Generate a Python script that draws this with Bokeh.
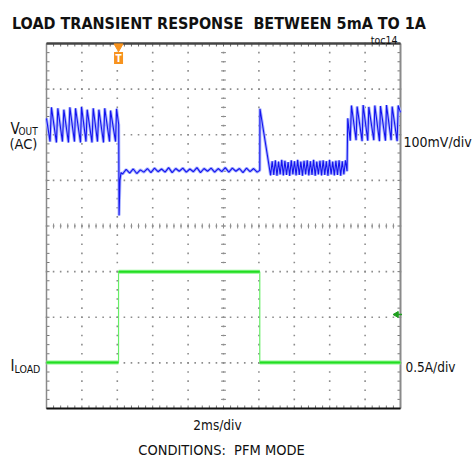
import numpy as np
from bokeh.plotting import figure
from bokeh.models import Range1d, Label
from bokeh.embed import file_html
from bokeh.resources import INLINE

# ---------------- data ----------------
TITLE = "LOAD TRANSIENT RESPONSE\u00a0 BETWEEN 5mA TO 1A"
TOC = "toc14"
CONDITIONS = "CONDITIONS:\u00a0 PFM MODE"
TIME_DIV = "2ms/div"
VOUT_SCALE = "100mV/div"
ILOAD_SCALE = "0.5A/div"

MS_PER_DIV = 2.0
N_XDIV = 10
N_YDIV = 8

# Vout (AC coupled), time in ms, value in mV
vout_t = [0.00, 0.20, 0.28, 0.56, 0.64, 0.90, 0.98, 1.24, 1.32, 1.58, 1.64, 1.92, 1.98,
          2.23, 2.30, 2.57, 2.64, 2.88, 2.96, 3.22, 3.29, 3.56, 3.62, 3.90, 3.96, 4.08,
          4.10, 4.15, 4.21,
          4.30, 4.50, 4.70, 4.90, 5.10, 5.30, 5.50, 5.70, 5.90, 6.10, 6.30, 6.50, 6.70,
          6.90, 7.10, 7.30, 7.50, 7.70, 7.90, 8.10, 8.30, 8.50, 8.70, 8.90, 9.10, 9.30,
          9.50, 9.70, 9.90, 10.10, 10.30, 10.50, 10.70, 10.90, 11.10, 11.30, 11.50, 11.70,
          11.90, 12.05, 12.06, 12.66,
          12.75, 12.84, 12.93, 13.02, 13.11, 13.20, 13.29, 13.38, 13.47, 13.56, 13.65, 13.74,
          13.83, 13.92, 14.01, 14.10, 14.19, 14.28, 14.37, 14.46, 14.55, 14.64, 14.73, 14.82,
          14.91, 15.00, 15.09, 15.18, 15.27, 15.36, 15.45, 15.54, 15.63, 15.72, 15.81, 15.90,
          15.99, 16.08, 16.17, 16.26, 16.35, 16.44, 16.53, 16.62, 16.71, 16.80, 16.89, 16.98,
          17.02, 17.16, 17.23, 17.49, 17.55, 17.83, 17.89, 18.15, 18.21, 18.49, 18.55, 18.81,
          18.87, 19.15, 19.21, 19.47, 19.53, 19.81, 19.87, 20.00]
vout_mv = [136, 85, 160, 83, 158, 85, 155, 83, 160, 85, 158, 83, 161,
           85, 155, 83, 158, 85, 155, 83, 158, 85, 153, 85, 157, 122,
           -77, 0, 17,
           14, 24, 16, 25, 15, 23, 18, 26, 17, 27, 19, 25, 18,
           28, 17, 26, 20, 27, 18, 25, 19, 28, 17, 26, 20, 27,
           18, 26, 19, 28, 18, 27, 20, 26, 17, 27, 19, 26,
           18, 22, 157, 11,
           42, 12, 44, 10, 41, 13, 45, 11, 43, 12, 40, 10,
           44, 13, 42, 11, 45, 12, 41, 10, 43, 13, 44, 11,
           42, 12, 45, 10, 41, 13, 43, 11, 44, 12, 42, 10,
           45, 13, 41, 11, 43, 12, 44, 10, 42, 13, 44, 20,
           136, 87, 164, 88, 162, 86, 165, 87, 161, 88, 164, 86,
           163, 87, 165, 88, 162, 86, 164, 149]

# Load current, time in ms, value in A
iload_t = [0.0, 4.07, 4.07, 12.05, 12.05, 20.0]
iload_a = [0.005, 0.005, 1.0, 1.0, 0.005, 0.005]

TRIG_T = 4.07      # ms
TRIG_LEVEL = 0.53  # A

# channel scales: value at the bottom graticule line and volts/amps per division
VOUT_BOTTOM, VOUT_PER_DIV = -500.0, 100.0   # mV
ILOAD_BOTTOM, ILOAD_PER_DIV = -0.5, 0.5     # A

# ---------------- layout ----------------
FONT = "DejaVu Sans Condensed"
W, H = 473, 457
FL, FT, FW, FH = 46, 43, 354, 365  # graticule box in canvas pixels
X_END = MS_PER_DIV * N_XDIV
PX_X = FW / X_END        # px per ms
PX_Y = FH / N_YDIV       # px per div


def tx(px):
    return (px - FL) / PX_X


def dy(py):
    return (FT + FH - py) / PX_Y


y0, y1 = dy(H), dy(0)
p = figure(width=W, height=H, output_backend="svg", toolbar_location=None,
           x_range=Range1d(tx(0), tx(W)), y_range=Range1d(y0, y1),
           min_border=0, background_fill_color="white", border_fill_color="white")
p.outline_line_color = None
p.axis.visible = False
p.grid.visible = False
p.extra_y_ranges = {
    "vout": Range1d(VOUT_BOTTOM + y0 * VOUT_PER_DIV, VOUT_BOTTOM + y1 * VOUT_PER_DIV),
    "iload": Range1d(ILOAD_BOTTOM + y0 * ILOAD_PER_DIV, ILOAD_BOTTOM + y1 * ILOAD_PER_DIV),
}

x_minor = list(np.round(np.arange(0, X_END + 1e-9, MS_PER_DIV / 5), 4))
y_minor = list(np.round(np.arange(0, N_YDIV + 1e-9, 0.2), 4))

# graticule dots
gx, gy = [], []
for k in range(1, N_XDIV):
    for yy in y_minor:
        gx.append(k * MS_PER_DIV)
        gy.append(yy)
for k in range(1, N_YDIV):
    for xx in x_minor:
        gx.append(xx)
        gy.append(k)
p.scatter(gx, gy, marker="square", size=1.6, fill_color="#8c8c8c", line_color=None)

# center cross tick marks
cx = X_END / 2
cy = N_YDIV / 2
p.scatter([cx] * len(y_minor), y_minor, marker="dash", size=5, line_color="#8c8c8c", line_width=1)
p.scatter(x_minor, [cy] * len(x_minor), marker="dash", angle=np.pi / 2, size=5,
          line_color="#8c8c8c", line_width=1)

# border ticks (pointing inward, 3px)
TK = 3.0
p.scatter(x_minor, [N_YDIV - TK / 2 / PX_Y] * len(x_minor), marker="dash", angle=np.pi / 2,
          size=TK, line_color="#666666", line_width=1)
p.scatter(x_minor, [TK / 2 / PX_Y] * len(x_minor), marker="dash", angle=np.pi / 2,
          size=TK, line_color="#777777", line_width=1)
p.scatter([TK / 2 / PX_X] * len(y_minor), y_minor, marker="dash", size=TK,
          line_color="#777777", line_width=1)
p.scatter([X_END - TK / 2 / PX_X] * len(y_minor), y_minor, marker="dash", size=TK,
          line_color="#777777", line_width=1)

# border
p.segment(x0=[0], y0=[0], x1=[0], y1=[N_YDIV], line_color="#8a8a8a", line_width=1.5)
p.segment(x0=[X_END], y0=[0], x1=[X_END], y1=[N_YDIV], line_color="#8a8a8a", line_width=2)
p.segment(x0=[0], y0=[N_YDIV], x1=[X_END], y1=[N_YDIV], line_color="#444444", line_width=2.5)
p.segment(x0=[0], y0=[0], x1=[X_END], y1=[0], line_color="#111111", line_width=2)

# Vout trace
p.line(vout_t, vout_mv, y_range_name="vout", line_color="#aab4ff", line_width=3)
p.line(vout_t, vout_mv, y_range_name="vout", line_color="#1414ee", line_width=1.1)

# Iload trace
p.line(iload_t, iload_a, y_range_name="iload", line_color="#66ee66", line_width=1.2)
hx, hy = [], []
for i in range(len(iload_t) - 1):
    if iload_a[i] == iload_a[i + 1]:
        hx.append([iload_t[i], iload_t[i + 1]])
        hy.append([iload_a[i], iload_a[i + 1]])
p.multi_line(hx, hy, y_range_name="iload", line_color="#8cf58c", line_width=4)
p.multi_line(hx, hy, y_range_name="iload", line_color="#22dd22", line_width=2)

# trigger markers
ORANGE = "#f7931e"
p.scatter([TRIG_T], [dy(46)], marker="inverted_triangle", size=9, fill_color=ORANGE, line_color=ORANGE)
p.rect([TRIG_T], [dy(57.5)], width=9, height=12, width_units="screen", height_units="screen",
       fill_color=ORANGE, line_color=None)
p.add_layout(Label(x=TRIG_T, y=dy(57.5), text="T", text_font=FONT, text_font_size="10px",
                   text_font_style="bold", text_color="white", text_align="center",
                   text_baseline="middle"))
p.scatter([tx(396)], [TRIG_LEVEL], y_range_name="iload", marker="triangle", angle=np.pi / 2,
          size=6, fill_color="#1f9e1f", line_color="#1f9e1f")
p.scatter([tx(399)], [TRIG_LEVEL], y_range_name="iload", marker="dash", size=5,
          line_color="#1f9e1f", line_width=1.5)


def lab(text, px, py, size, align="left", bold=False, baseline="alphabetic", color="#111111",
        font=FONT):
    p.add_layout(Label(x=tx(px), y=dy(py), text=text, text_font=font,
                       text_font_size=f"{size}px", text_align=align,
                       text_font_style="bold" if bold else "normal",
                       text_baseline=baseline, text_color=color))


lab(TITLE, 218.5, 22.5, 16, align="center", bold=True)
lab(TOC, 397, 39, 10.5, align="right")
lab("V", 10, 128.5, 15)
lab("OUT", 18, 131, 10)
lab("(AC)", 9, 143.5, 14.5)
lab(VOUT_SCALE, 403, 141.5, 14)
lab("I", 10, 365, 15)
lab("LOAD", 14, 368.5, 10.5)
lab(ILOAD_SCALE, 405, 366.5, 13.5)
lab(TIME_DIV, 217, 424.5, 13.5, align="center")
lab(CONDITIONS, 221, 449, 14.5, align="center")

open("out.html", "w").write(file_html(p, INLINE))
